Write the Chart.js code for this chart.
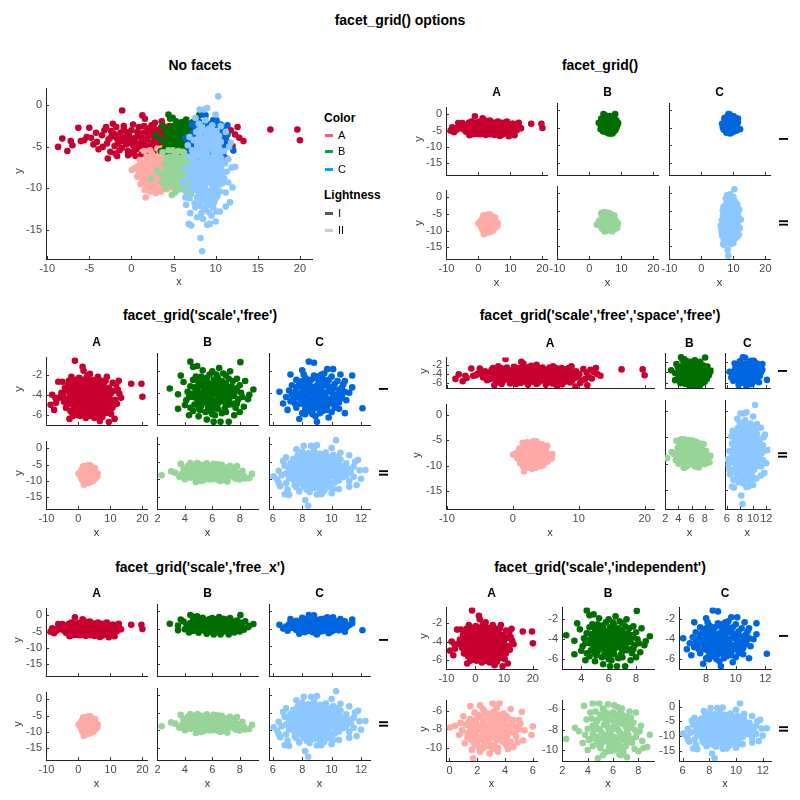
<!DOCTYPE html>
<html><head><meta charset="utf-8">
<script src="https://cdn.jsdelivr.net/npm/chart.js@4.4.0/dist/chart.umd.min.js"></script>
<style>
html,body{margin:0;padding:0;background:#fff;}
body{width:800px;height:800px;position:relative;overflow:hidden;font-family:"Liberation Sans",Arial,Helvetica,sans-serif;}
canvas{position:absolute;}
.t{position:absolute;white-space:nowrap;line-height:1;}
.sw{position:absolute;height:3px;width:8px;}
</style></head><body>
<script>
// ---------------- DATA ----------------
const A_I = [
[-8.7,-5.0],[-8.2,-4.0],[-7.6,-5.5],[-7.2,-4.3],[-7.0,-4.8],[-6.3,-2.7],[-5.0,-2.7],[-5.6,-4.2],[-4.8,-3.9],[-3.9,-5.3],[-2.8,-6.4],[-3.2,-3.0],[-1.1,-0.6],[1.3,-1.2],[1.6,-1.6],[16.5,-2.9],[19.7,-2.9],[20.0,-4.2],[13.3,-4.3],[12.6,-2.6],[12.3,-3.5],[12.0,-4.9],[11.3,-6.4],[9.5,-6.7],[6.7,-6.6],[5.0,-6.3],[8.7,-5.8],[10.6,-5.3],[8.9,-2.2],[11.8,-3.0],[-1.7,-6.1],[0.5,-6.1],[2.3,-6.3],[-4.5,-4.7],[-6.0,-4.3],
[11.5,-4.5],[12.8,-3.9],[11.0,-5.0],[-5.3,-3.8],[-4.2,-3.3],[-3.0,-2.6],[-2.2,-2.2],
[0.2,-2.3],[2.8,-2.1],[4.5,-2.5],[6.1,-2.2],[7.4,-2.6],[-1.8,-2.6],[3.6,-1.9],
[-2.4,-3.1],[-0.9,-2.9],[0.7,-3.2],[1.9,-2.8],[3.2,-3.0],[4.1,-3.3],[5.3,-2.9],[6.6,-3.1],[7.9,-2.9],[9.6,-3.3],[10.7,-2.8],
[-3.5,-3.6],[-1.5,-3.7],[-0.3,-3.5],[1.1,-3.8],[2.4,-3.6],[3.7,-3.7],[4.8,-3.5],[5.9,-3.8],[7.1,-3.6],[8.4,-3.7],[10.1,-3.9],[11.2,-3.6],
[-2.7,-4.1],[-1.2,-4.3],[0.1,-4.0],[1.5,-4.4],[2.7,-4.2],[3.9,-4.1],[5.2,-4.3],[6.4,-4.0],[7.6,-4.4],[8.9,-4.2],[9.9,-4.5],[-4.1,-4.4],
[-2.0,-4.9],[-0.6,-4.7],[0.8,-5.0],[2.1,-4.8],[3.3,-5.0],[4.5,-4.7],[5.7,-4.9],[6.9,-4.8],[8.2,-5.1],[9.4,-4.8],[-3.4,-5.0],
[-1.4,-5.4],[0.3,-5.5],[1.8,-5.3],[3.0,-5.6],[4.2,-5.4],[5.5,-5.7],[6.8,-5.3],[7.9,-5.6],[-2.5,-5.6],[10.2,-5.9],
[-0.4,-6.0],[1.2,-5.9],[3.6,-6.1],[6.0,-6.0],[7.5,-6.2],
[1.0,-4.6],[2.0,-3.3],[3.0,-4.5],[4.0,-3.9],[5.0,-4.0],[2.5,-5.0],[0.5,-3.9],[1.5,-2.5],[6.0,-4.6],[3.5,-3.4],[-0.5,-4.3],[4.7,-5.2],
[-2.1,-3.4],[-0.6,-3.2],[0.9,-3.5],[2.2,-3.1],[3.8,-3.2],[5.1,-3.6],[6.3,-3.4],[7.7,-3.3],[9.1,-3.6],
[-2.9,-4.6],[-1.7,-4.0],[-0.1,-4.5],[1.3,-4.1],[2.3,-4.5],[3.4,-4.3],[4.6,-4.2],[5.8,-4.2],[7.1,-4.1],[8.4,-4.5],[9.6,-4.1],
[-1.1,-5.1],[0.2,-4.8],[1.6,-5.1],[2.9,-4.9],[4.0,-5.0],[5.1,-4.8],[6.4,-5.1],[7.6,-5.0],[8.8,-5.3],
[-0.9,-2.5],[0.9,-2.6],[2.4,-2.4],[3.9,-2.6],[5.6,-2.5],[6.9,-2.8],[8.5,-2.6],
[-1.9,-5.8],[-0.1,-5.8],[2.0,-5.7],[3.9,-5.8],[5.1,-5.3],[6.3,-5.6],[9.0,-5.4],
[0.4,-4.3],[1.9,-3.9],[3.1,-3.9],[4.4,-3.6],[2.6,-4.7],[1.3,-4.9],[5.5,-4.5],[4.9,-3.1],[-0.8,-3.9],[3.5,-2.7],[6.7,-4.6],
[0.0,-3.0],[1.4,-3.3],[2.9,-3.5],[4.3,-3.0],[5.7,-3.2],[7.2,-3.0],[-1.3,-3.3],[-0.2,-4.0],[1.8,-4.2],[3.6,-4.6],[4.9,-4.5],[6.2,-4.4],[7.8,-4.8],[-1.6,-4.6],[0.6,-5.3],[2.2,-5.4],[3.7,-5.3],[5.9,-5.4],[7.2,-5.6],[-0.4,-5.5],[8.0,-3.9],[9.2,-4.6],[-2.4,-3.8],[2.7,-2.8],[6.5,-2.6]
];
const B_I = [
[8.05,-1.15],[4.4,-1.1],[2.9,-3.6],[3.5,-4.15],[3.5,-5.5],[4.0,-5.15],[6.1,-6.7],[6.6,-6.7],[7.2,-6.7],[9.0,-3.7],[8.6,-4.6],[8.3,-5.3],[4.9,-1.5],[6.5,-1.7],[4.6,-1.6],[3.7,-2.4],[8.4,-2.9],[7.8,-2.7],[3.9,-3.0],[4.3,-6.1],[5.0,-6.2],[5.6,-6.5],[7.6,-6.1],[8.0,-5.8],[4.1,-4.7],[8.7,-4.2],[5.3,-1.9],[7.3,-2.0],
[4.6,-2.8],[5.2,-2.5],[5.8,-2.3],[6.4,-2.6],[7.0,-2.4],
[4.4,-3.4],[5.0,-3.2],[5.6,-3.0],[6.2,-3.3],[6.8,-3.1],[7.4,-3.4],[8.0,-3.3],
[4.8,-3.9],[5.4,-3.7],[6.0,-3.9],[6.6,-3.6],[7.2,-3.9],[7.8,-3.8],[4.2,-3.9],
[4.6,-4.4],[5.2,-4.3],[5.8,-4.5],[6.4,-4.2],[7.0,-4.5],[7.6,-4.3],
[4.9,-5.0],[5.5,-4.9],[6.1,-5.1],[6.7,-4.8],[7.3,-5.1],[4.4,-5.4],
[5.1,-5.6],[5.8,-5.7],[6.4,-5.5],[7.0,-5.8],[7.7,-5.4],
[6.0,-3.4],[5.7,-4.1],[6.3,-4.7],[5.3,-4.6],[6.9,-4.0],[6.2,-6.1],
[5.0,-2.9],[5.5,-2.7],[6.1,-2.8],[6.7,-2.9],[7.2,-2.7],
[4.7,-3.5],[5.3,-3.4],[5.9,-3.5],[6.5,-3.3],[7.1,-3.6],[7.7,-3.6],
[4.5,-4.1],[5.1,-4.0],[5.6,-3.9],[6.3,-3.8],[6.8,-3.8],[7.4,-4.1],[8.1,-4.0],
[4.9,-4.6],[5.5,-4.4],[6.0,-4.7],[6.6,-4.4],[7.2,-4.7],[7.9,-4.6],
[4.7,-5.1],[5.2,-5.2],[5.8,-5.2],[6.4,-5.0],[7.0,-5.2],[7.6,-5.0],
[5.5,-5.8],[6.1,-5.5],[6.7,-5.9],[5.4,-3.1],[6.6,-4.1],[5.9,-4.3],[6.2,-3.6],[5.0,-4.3],[7.3,-4.4],[5.7,-4.8],[6.9,-3.4],[4.8,-2.5],[6.8,-2.2],[6.0,-2.0],
[5.2,-3.0],[5.8,-3.2],[6.4,-3.0],[7.0,-3.2],[4.9,-3.6],[5.5,-3.5],[6.1,-3.7],[6.8,-3.7],[7.5,-3.8],[4.8,-4.2],[5.4,-4.1],[6.1,-4.1],[6.7,-4.3],[7.3,-4.2],[5.2,-4.8],[5.9,-4.9],[6.5,-4.7],[7.1,-4.9],[5.0,-5.4],[5.7,-5.4],[6.3,-5.3],[6.9,-5.5],[5.6,-2.6],[6.3,-2.3],[4.3,-4.4],[8.2,-4.4],[7.8,-5.0],[6.0,-6.0],[4.6,-5.7],[7.5,-2.9]
];
const C_I = [
[8.45,-1.1],[8.8,-1.2],[6.45,-3.9],[6.7,-5.0],[7.0,-5.6],[7.8,-6.45],[9.0,-6.7],[12.1,-5.45],[11.4,-2.4],[10.9,-2.9],[10.9,-5.9],[10.1,-1.8],[9.7,-1.8],[7.2,-2.3],[7.6,-2.8],[11.2,-4.0],[11.4,-3.5],[8.2,-6.0],[9.8,-6.3],[10.5,-5.5],[6.9,-4.4],[7.3,-3.3],[10.6,-2.3],[8.0,-1.9],
[8.2,-2.6],[8.8,-2.4],[9.4,-2.7],[10.0,-2.5],
[7.8,-3.2],[8.4,-3.1],[9.0,-3.3],[9.6,-3.0],[10.2,-3.2],[10.7,-3.5],
[7.5,-3.9],[8.1,-3.7],[8.7,-3.9],[9.3,-3.6],[9.9,-3.9],[10.5,-4.1],
[7.8,-4.5],[8.4,-4.3],[9.0,-4.6],[9.6,-4.4],[10.2,-4.7],[7.2,-4.8],
[8.1,-5.1],[8.7,-5.0],[9.3,-5.3],[9.9,-5.0],[7.6,-5.4],[10.5,-4.9],
[8.5,-5.7],[9.2,-5.9],[9.7,-5.6],[8.9,-4.2],[9.0,-3.9],[8.6,-3.4],[9.4,-4.9],
[8.0,-4.0],[9.8,-3.4],[8.3,-4.8],[10.1,-4.3],[9.5,-2.2],[8.9,-6.2],
[8.0,-2.9],[8.6,-2.8],[9.2,-2.9],[9.8,-2.8],[10.4,-2.9],
[7.6,-3.5],[8.2,-3.4],[8.9,-3.6],[9.5,-3.3],[10.1,-3.6],[10.9,-3.9],
[7.9,-4.0],[8.5,-3.9],[9.2,-4.1],[9.8,-3.7],[10.4,-4.4],[7.3,-4.2],
[8.1,-4.5],[8.7,-4.6],[9.3,-4.3],[9.9,-4.6],[10.7,-4.5],
[7.9,-5.0],[8.5,-5.3],[9.1,-5.1],[9.7,-5.2],[10.2,-5.4],
[8.2,-5.6],[8.8,-5.5],[9.4,-5.7],[8.6,-4.0],[9.5,-4.0],[9.0,-4.9],[8.3,-3.8],[9.7,-4.8],[9.1,-2.5],[7.4,-4.6],[10.8,-4.0],[8.0,-5.9],
[8.4,-2.8],[9.0,-2.7],[9.6,-2.9],[8.0,-3.5],[8.6,-3.6],[9.3,-3.4],[9.9,-3.5],[10.5,-3.7],[7.7,-4.2],[8.3,-4.1],[8.9,-4.0],[9.5,-4.2],[10.1,-4.1],[10.7,-4.3],[8.0,-4.8],[8.6,-4.8],[9.2,-4.7],[9.8,-4.9],[10.3,-5.0],[8.4,-5.4],[9.0,-5.4],[9.6,-5.4],[10.0,-5.8],[8.7,-6.0],[7.5,-5.0],[11.0,-4.7],[7.1,-3.8],[9.3,-2.3],[8.1,-2.3],[10.8,-3.2]
];
const A_II = [
[1.7,-11.1],[1.6,-10.2],[2.2,-10.4],[3.5,-10.4],[0.05,-7.8],[0.4,-7.6],[1.1,-9.5],[1.5,-5.5],[2.2,-5.4],[3.1,-5.2],[3.6,-5.2],[5.2,-6.1],[6.0,-7.7],[5.9,-8.6],[5.4,-8.1],[0.7,-8.6],[4.6,-9.9],[4.2,-10.1],[2.9,-10.6],[1.0,-6.6],[4.4,-5.8],[5.0,-7.0],[5.3,-9.2],[0.9,-8.1],
[1.8,-6.2],[2.5,-6.0],[3.2,-6.1],[3.9,-6.3],
[1.5,-6.9],[2.2,-6.7],[2.9,-6.8],[3.6,-6.6],[4.3,-6.9],
[1.2,-7.5],[1.9,-7.4],[2.6,-7.6],[3.3,-7.3],[4.0,-7.5],[4.7,-7.7],
[1.6,-8.2],[2.3,-8.0],[3.0,-8.2],[3.7,-7.9],[4.4,-8.3],[5.0,-8.0],
[1.3,-8.9],[2.0,-8.8],[2.7,-9.0],[3.4,-8.7],[4.1,-9.0],[4.8,-8.8],
[1.8,-9.6],[2.5,-9.5],[3.2,-9.7],[3.9,-9.4],
[3.0,-7.0],[2.8,-8.5],[3.5,-8.3],
[2.0,-6.4],[2.8,-6.3],[3.5,-6.4],[4.1,-6.6],
[1.8,-7.1],[2.5,-7.1],[3.2,-6.9],[3.9,-7.1],[4.5,-7.3],
[1.5,-7.8],[2.2,-7.7],[2.9,-7.5],[3.6,-7.6],[4.3,-7.8],
[1.9,-8.5],[2.6,-8.3],[3.3,-8.0],[4.0,-8.2],[4.7,-8.4],
[1.6,-9.2],[2.3,-9.1],[3.0,-8.9],[3.7,-9.2],[4.4,-9.3],
[2.1,-9.9],[2.8,-9.8],[3.5,-10.0],[1.4,-7.2],[5.1,-7.4],[4.9,-9.4],[0.8,-7.3],[2.4,-5.8],[3.4,-5.7],
[2.2,-6.5],[3.0,-6.5],[3.7,-6.9],[1.7,-7.7],[2.4,-7.3],[3.1,-7.8],[3.8,-7.4],[4.4,-7.6],[2.0,-8.1],[2.7,-7.9],[3.4,-8.4],[4.2,-8.6],[1.6,-8.6],[2.4,-8.6],[3.1,-8.6],[3.8,-8.6],[2.0,-9.3],[2.7,-9.3],[3.4,-9.2],[4.1,-9.7],[2.4,-10.0],[3.1,-10.1],[1.3,-8.4],[4.6,-7.0],[2.6,-6.4],[3.6,-7.2],[1.9,-7.0],[4.0,-8.8],[2.9,-9.6],[3.3,-7.6]
];
const B_II = [
[2.3,-8.9],[3.3,-8.15],[3.7,-5.65],[4.4,-5.4],[4.9,-5.4],[6.1,-5.6],[7.8,-6.3],[8.1,-8.15],[8.3,-9.1],[8.0,-10.1],[8.4,-9.8],[8.7,-9.7],[4.8,-10.8],[5.2,-10.5],[6.6,-10.5],[3.6,-9.3],[7.1,-10.7],[5.6,-5.5],[6.7,-5.9],[3.9,-7.0],[7.6,-7.3],[4.0,-10.0],[8.9,-8.5],
[4.6,-6.2],[5.3,-6.1],[6.0,-6.3],[6.7,-6.5],[7.3,-6.2],
[4.3,-6.9],[5.0,-6.8],[5.7,-7.0],[6.4,-6.9],[7.1,-7.0],
[4.6,-7.6],[5.3,-7.5],[6.0,-7.7],[6.7,-7.4],[7.4,-7.8],[4.0,-7.9],
[4.4,-8.4],[5.1,-8.3],[5.8,-8.5],[6.5,-8.2],[7.2,-8.5],[7.8,-8.7],
[4.7,-9.1],[5.4,-9.0],[6.1,-9.2],[6.8,-9.0],[7.5,-9.3],[4.1,-9.0],
[5.0,-9.8],[5.7,-9.7],[6.4,-9.9],[7.0,-9.6],
[5.9,-8.0],[6.2,-7.2],[5.5,-8.7],
[5.0,-6.5],[5.6,-6.4],[6.3,-6.5],[7.0,-6.7],
[4.7,-7.2],[5.4,-7.1],[6.1,-7.3],[6.8,-7.1],[7.5,-7.4],
[4.9,-7.9],[5.6,-7.8],[6.3,-7.9],[7.0,-7.7],[7.7,-8.0],
[4.7,-8.7],[5.4,-8.5],[6.1,-8.7],[6.8,-8.5],[7.5,-8.9],
[5.1,-9.3],[5.8,-9.4],[6.5,-9.5],[7.2,-9.2],[4.4,-9.6],
[5.4,-10.2],[6.1,-10.0],[6.8,-10.2],[3.8,-8.5],[8.2,-7.6],[4.2,-6.3],[7.7,-9.9],[3.0,-7.8],
[5.3,-6.6],[6.0,-6.6],[6.6,-6.3],[4.8,-7.0],[5.5,-7.4],[6.2,-7.5],[6.9,-7.3],[7.2,-7.6],[5.0,-8.1],[5.7,-8.2],[6.4,-8.0],[7.1,-8.1],[4.5,-8.0],[5.1,-8.9],[5.8,-8.9],[6.5,-8.8],[7.2,-8.9],[4.9,-9.5],[5.6,-9.2],[6.3,-9.3],[6.9,-9.7],[5.8,-10.1],[6.5,-10.4],[4.4,-7.6],[7.9,-8.3],[5.2,-5.9],[6.4,-5.8],[4.2,-8.9],[7.4,-6.8],[6.0,-9.7]
];
const C_II = [
[10.3,1.1],[8.4,-17.6],[8.2,-16.0],[6.05,-9.2],[6.3,-10.2],[6.5,-12.0],[7.0,-13.0],[7.1,-14.5],[6.8,-14.3],[11.2,-10.5],[11.2,-12.2],[11.7,-11.7],[12.3,-7.4],[11.9,-7.5],[6.9,-3.8],[6.7,-4.8],[9.0,-0.3],[8.6,-0.5],[8.1,-0.5],[10.0,-1.1],[8.5,-13.7],[9.0,-14.4],[9.3,-14.3],[10.0,-14.0],[9.5,-13.3],[11.5,-6.5],[11.2,-3.2],[6.4,-7.6],[7.6,-1.5],[10.6,-2.5],[7.6,-12.3],[10.5,-12.8],[11.0,-8.8],[6.8,-6.2],
[8.0,-2.2],[8.8,-1.8],[9.6,-2.4],
[7.7,-3.2],[8.5,-3.0],[9.3,-3.3],[10.1,-3.1],
[7.4,-4.2],[8.2,-4.0],[9.0,-4.3],[9.8,-4.1],[10.6,-4.4],
[7.8,-5.1],[8.6,-5.3],[9.4,-5.0],[10.2,-5.2],[7.2,-5.4],[11.0,-5.5],
[7.5,-6.2],[8.3,-6.0],[9.1,-6.3],[9.9,-6.1],[10.7,-6.4],
[7.1,-7.1],[7.9,-7.0],[8.7,-7.3],[9.5,-7.0],[10.3,-7.2],[11.1,-7.0],
[7.4,-8.1],[8.2,-8.0],[9.0,-8.3],[9.8,-8.0],[10.6,-8.2],[6.9,-8.4],
[7.7,-9.1],[8.5,-9.0],[9.3,-9.3],[10.1,-9.0],[10.8,-9.4],[7.1,-9.7],
[7.4,-10.2],[8.2,-10.0],[9.0,-10.3],[9.8,-10.1],[10.5,-10.4],
[7.8,-11.1],[8.6,-11.0],[9.4,-11.3],[10.2,-11.0],[6.9,-11.2],
[8.1,-12.1],[8.9,-12.0],[9.7,-12.3],[10.1,-12.8],
[8.3,-13.0],[9.2,-12.9],[7.8,-13.5],
[8.8,-6.6],[9.2,-8.7],[8.6,-4.7],[9.6,-9.7],
[8.4,-2.6],[9.2,-2.8],[8.1,-3.6],[8.9,-3.7],[9.7,-3.6],[10.4,-3.7],
[7.8,-4.6],[8.6,-4.1],[9.4,-4.5],[10.2,-4.3],[7.6,-5.8],[8.2,-5.5],[9.0,-5.7],[9.8,-5.6],[10.5,-5.8],
[7.6,-6.7],[8.4,-6.5],[9.2,-6.8],[10.0,-6.7],[10.8,-6.9],
[7.8,-7.6],[8.6,-7.7],[9.4,-7.6],[10.2,-7.8],[7.2,-7.8],
[8.0,-8.6],[8.8,-8.5],[9.6,-8.6],[10.4,-8.7],[7.4,-9.0],
[7.9,-9.6],[8.7,-9.6],[9.5,-10.3],[10.3,-9.7],[8.6,-10.5],
[8.2,-11.6],[9.0,-11.5],[9.8,-11.7],[7.5,-11.8],[8.6,-12.6],
[11.5,-9.3],[11.6,-5.0],[6.6,-8.9],[11.3,-8.0],[6.4,-11.1],[12.0,-9.9],[11.8,-4.5],
[8.0,-3.0],[8.8,-3.2],[9.6,-3.1],[7.8,-4.1],[8.5,-4.5],[9.2,-4.0],[10.0,-4.6],[8.1,-5.0],[8.9,-5.0],[9.7,-5.3],[10.4,-5.1],[7.9,-6.1],[8.7,-6.0],[9.5,-6.3],[10.3,-6.2],[7.4,-7.3],[8.2,-7.2],[9.0,-7.1],[9.8,-7.4],[10.6,-7.5],[7.7,-8.4],[8.5,-8.2],[9.3,-8.0],[10.1,-8.4],[10.9,-8.0],[7.6,-9.5],[8.3,-9.3],[9.0,-9.0],[9.8,-9.4],[10.5,-9.1],[8.0,-10.6],[8.8,-10.2],[9.6,-10.8],[10.3,-10.5],[8.4,-11.3],[9.2,-11.0],[9.9,-11.4],[8.8,-12.5],[9.4,-12.0],[7.3,-6.0]
];
const colorCats = ['A','B','C'];
const lightCats = ['I','II'];

// tick labels
const ticksX_full = [-10,-5,0,5,10,15,20];
const ticksX_A = [-10,0,10,20];
const ticksX_B = [2,4,6,8];
const ticksX_C = [6,8,10,12];
const ticksX_BI = [4,6,8];
const ticksX_CI = [8,10,12];
const ticksX_AII = [0,2,4,6];
const ticksY_full = [0,-5,-10,-15];
const ticksY_I = [-2,-4,-6];
const ticksY_II = [-6,-8,-10];

// ---------------- STYLE ----------------
const COLORS = {AI:'#c80030', AII:'#ffaaa6', BI:'#006e00', BII:'#96d498', CI:'#0066e0', CII:'#8cc8ff'};
const G = {
  AI:{d:A_I,c:COLORS.AI}, AII:{d:A_II,c:COLORS.AII},
  BI:{d:B_I,c:COLORS.BI}, BII:{d:B_II,c:COLORS.BII},
  CI:{d:C_I,c:COLORS.CI}, CII:{d:C_II,c:COLORS.CII}
};
const grid = [[G.AI,G.BI,G.CI],[G.AII,G.BII,G.CII]];
const FONT = '"Liberation Sans", Arial, Helvetica, sans-serif';
const PAD = 0.05;
function ext(sets, k){
  let mn=Infinity, mx=-Infinity;
  sets.forEach(s=>s.d.forEach(p=>{ if(p[k]<mn)mn=p[k]; if(p[k]>mx)mx=p[k]; }));
  const r = mx-mn; return [mn-PAD*r, mx+PAD*r];
}
// drawing order: first listed is painted first (bottom)
const ALL = [G.AI,G.AII,G.BI,G.BII,G.CI,G.CII];

const inTicks = {id:'inTicks', beforeDatasetsDraw(chart){
  const {ctx, chartArea:a} = chart; const x=chart.scales.x, y=chart.scales.y;
  ctx.save(); ctx.strokeStyle='#333'; ctx.lineWidth=1; ctx.beginPath();
  x.ticks.forEach(t=>{const px=Math.round(x.getPixelForValue(t.value))+0.5; if(px>=a.left-0.5&&px<=a.right+0.5){ctx.moveTo(px,a.bottom);ctx.lineTo(px,a.bottom-3);}});
  y.ticks.forEach(t=>{const py=Math.round(y.getPixelForValue(t.value))+0.5; if(py>=a.top-0.5&&py<=a.bottom+0.5){ctx.moveTo(a.left,py);ctx.lineTo(a.left+3,py);}});
  ctx.stroke(); ctx.restore();
}};

const YW=34, XH=20, PT=6, PR=8;
function panel(L,T,W,H,sets,xr,yr,xt,yt,showX,showY){
  const c=document.createElement('canvas');
  const cw=Math.round(W+YW+PR), ch=Math.round(H+PT+XH);
  c.width=cw; c.height=ch; c.style.width=cw+'px'; c.style.height=ch+'px';
  c.style.left=(L-YW)+'px'; c.style.top=(T-PT)+'px';
  document.body.appendChild(c);
  const tickFont={size:11,family:FONT};
  const n=sets.length;
  new Chart(c,{
    type:'scatter',
    data:{datasets:sets.map((s,i)=>({data:s.d.map(p=>({x:p[0],y:p[1]})),backgroundColor:s.c,borderWidth:0,pointRadius:3.3,pointHoverRadius:3.3,order:n-i}))},
    options:{responsive:false,animation:false,events:[],devicePixelRatio:1,
      layout:{padding:{left:0,top:PT,right:cw-YW-W,bottom:0}},
      plugins:{legend:{display:false},tooltip:{enabled:false},title:{display:false}},
      scales:{
        x:{type:'linear',min:xr[0],max:xr[1],grid:{display:false,drawTicks:false},border:{display:true,color:'#222',width:1},
          ticks:{display:showX,padding:3,color:'#4a4a4a',font:tickFont,autoSkip:false,maxRotation:0,callback:v=>String(v)},
          afterBuildTicks:s=>{s.ticks=xt.map(v=>({value:v}));}, afterFit:s=>{s.height=XH;}},
        y:{type:'linear',min:yr[0],max:yr[1],grid:{display:false,drawTicks:false},border:{display:true,color:'#222',width:1},
          ticks:{display:showY,padding:4,color:'#4a4a4a',font:tickFont,autoSkip:false,callback:v=>String(v)},
          afterBuildTicks:s=>{s.ticks=yt.map(v=>({value:v}));}, afterFit:s=>{s.width=YW;}}
      }},
    plugins:[inTicks]
  });
}
function txt(s,x,y,o={}){
  const d=document.createElement('div'); d.className='t'; d.textContent=s;
  d.style.left=x+'px'; d.style.top=y+'px'; d.style.fontSize=(o.size||11)+'px';
  if(o.bold) d.style.fontWeight='bold'; d.style.color=o.color||'#000';
  d.style.transform=o.left?'translate(0,-50%)':('translate(-50%,-50%)'+(o.rot?' rotate(-90deg)':''));
  document.body.appendChild(d);
}
function sw(x,y,c){const d=document.createElement('div');d.className='sw';d.style.left=x+'px';d.style.top=(y-1.5)+'px';d.style.background=c;document.body.appendChild(d);}

// ---------------- TITLES ----------------
txt('facet_grid() options',400,20,{size:14,bold:true});
txt('No facets',200,65,{size:14,bold:true});
txt('facet_grid()',600,65,{size:14,bold:true});
txt("facet_grid('scale','free')",200,315,{size:14,bold:true});
txt("facet_grid('scale','free','space','free')",600,315,{size:14,bold:true});
txt("facet_grid('scale','free_x')",200,567,{size:14,bold:true});
txt("facet_grid('scale','independent')",600,567,{size:14,bold:true});

// ---------------- NO FACETS ----------------
const xrAll=ext(ALL,0), yrAll=ext(ALL,1);
panel(46,84,266,175,ALL,xrAll,yrAll,ticksX_full,ticksY_full,true,true);
txt('x',179,281,{size:11,color:'#333'});
txt('y',18,171,{size:11,color:'#333',rot:true});
// legend
txt('Color',324,118,{size:12,bold:true,left:true});
const legC=['#ff5a6e','#00a844','#00a8ff'];
[135,151,169].forEach((yy,i)=>{sw(325,yy,legC[i]); txt(colorCats[i],338,yy,{size:11,left:true});});
txt('Lightness',324,195,{size:12,bold:true,left:true});
const legL=['#5a5a5a','#cccccc'];
[213,230].forEach((yy,i)=>{sw(325,yy,legL[i]); txt(lightCats[i],338,yy,{size:11,left:true});});

function headers(Ls,Ws,y){ Ls.forEach((l,i)=>txt(colorCats[i],l+Ws[i]/2,y,{size:12,bold:true})); }
function rowLabels(x,Ts,Hs){ Ts.forEach((t,i)=>txt(lightCats[i],x,t+Hs[i]/2,{size:13,bold:true,rot:true})); }

// ---------------- facet_grid() ----------------
{
  const Ls=[446,557,669], Ws=[101,101,101], Ts=[103,186], Hs=[72,73];
  for(let r=0;r<2;r++)for(let c=0;c<3;c++)
    panel(Ls[c],Ts[r],Ws[c],Hs[r],[grid[r][c]],xrAll,yrAll,ticksX_A,ticksY_full,r===1,c===0);
  headers(Ls,Ws,92); rowLabels(783,Ts,Hs);
  Ls.forEach((l,i)=>txt('x',l+Ws[i]/2,282,{size:11,color:'#333'}));
  Ts.forEach((t,i)=>txt('y',418,t+Hs[i]/2,{size:11,color:'#333',rot:true}));
}
const xrCol=[0,1,2].map(c=>ext([grid[0][c],grid[1][c]],0));
const yrRow=[0,1].map(r=>ext(grid[r],1));
const xtCol=[ticksX_A,ticksX_B,ticksX_C];
const ytRow=[ticksY_I,ticksY_full];

// ---------------- free ----------------
{
  const Ls=[46,157,269], Ws=[101,101,101], Ts=[353,437], Hs=[72,72];
  for(let r=0;r<2;r++)for(let c=0;c<3;c++)
    panel(Ls[c],Ts[r],Ws[c],Hs[r],[grid[r][c]],xrCol[c],yrRow[r],xtCol[c],ytRow[r],r===1,c===0);
  headers(Ls,Ws,342); rowLabels(383,Ts,Hs);
  Ls.forEach((l,i)=>txt('x',l+Ws[i]/2,532,{size:11,color:'#333'}));
  Ts.forEach((t,i)=>txt('y',18,t+Hs[i]/2,{size:11,color:'#333',rot:true}));
}
// ---------------- free + space free ----------------
{
  const L0=446,R0=770,gap=11,T0=353,B0=509,vgap=12;
  const spans=xrCol.map(r=>r[1]-r[0]); const tot=spans.reduce((a,b)=>a+b,0);
  const ux=(R0-L0-2*gap)/tot; const Ws=spans.map(s=>s*ux);
  const Ls=[L0,L0+Ws[0]+gap,L0+Ws[0]+Ws[1]+2*gap];
  const vs=yrRow.map(r=>r[1]-r[0]); const uy=(B0-T0-vgap)/(vs[0]+vs[1]);
  const Hs=vs.map(v=>v*uy); const Ts=[T0,T0+Hs[0]+vgap];
  for(let r=0;r<2;r++)for(let c=0;c<3;c++)
    panel(Ls[c],Ts[r],Ws[c],Hs[r],[grid[r][c]],xrCol[c],yrRow[r],xtCol[c],ytRow[r],r===1,c===0);
  headers(Ls,Ws,343); rowLabels(782,Ts,Hs);
  Ls.forEach((l,i)=>txt('x',l+Ws[i]/2,532,{size:11,color:'#333'}));
  txt('y',423,Ts[0]+Hs[0]/2,{size:11,color:'#333',rot:true});
  txt('y',416,Ts[1]+Hs[1]/2,{size:11,color:'#333',rot:true});
}
// ---------------- free_x ----------------
{
  const Ls=[46,157,269], Ws=[101,101,101], Ts=[604,688], Hs=[72,72];
  for(let r=0;r<2;r++)for(let c=0;c<3;c++)
    panel(Ls[c],Ts[r],Ws[c],Hs[r],[grid[r][c]],xrCol[c],yrAll,xtCol[c],ticksY_full,r===1,c===0);
  headers(Ls,Ws,593); rowLabels(383,Ts,Hs);
  Ls.forEach((l,i)=>txt('x',l+Ws[i]/2,783,{size:11,color:'#333'}));
  Ts.forEach((t,i)=>txt('y',17,t+Hs[i]/2,{size:11,color:'#333',rot:true}));
}
// ---------------- independent ----------------
{
  const Ls=[446,562,679], Ws=[91,92,92], Ts=[603,696], Hs=[66,65];
  const xt=[[ticksX_A,ticksX_BI,ticksX_CI],[ticksX_AII,ticksX_B,ticksX_C]];
  const yt=[[ticksY_I,ticksY_I,ticksY_I],[ticksY_II,ticksY_II,ticksY_full]];
  for(let r=0;r<2;r++)for(let c=0;c<3;c++){
    const g=grid[r][c];
    panel(Ls[c],Ts[r],Ws[c],Hs[r],[g],ext([g],0),ext([g],1),xt[r][c],yt[r][c],true,true);
  }
  headers(Ls,Ws,593); rowLabels(783,Ts,Hs);
  Ls.forEach((l,i)=>txt('x',l+Ws[i]/2,783,{size:11,color:'#333'}));
  Ts.forEach((t,i)=>txt('y',423,t+Hs[i]/2,{size:11,color:'#333',rot:true}));
}
</script>
</body></html>
